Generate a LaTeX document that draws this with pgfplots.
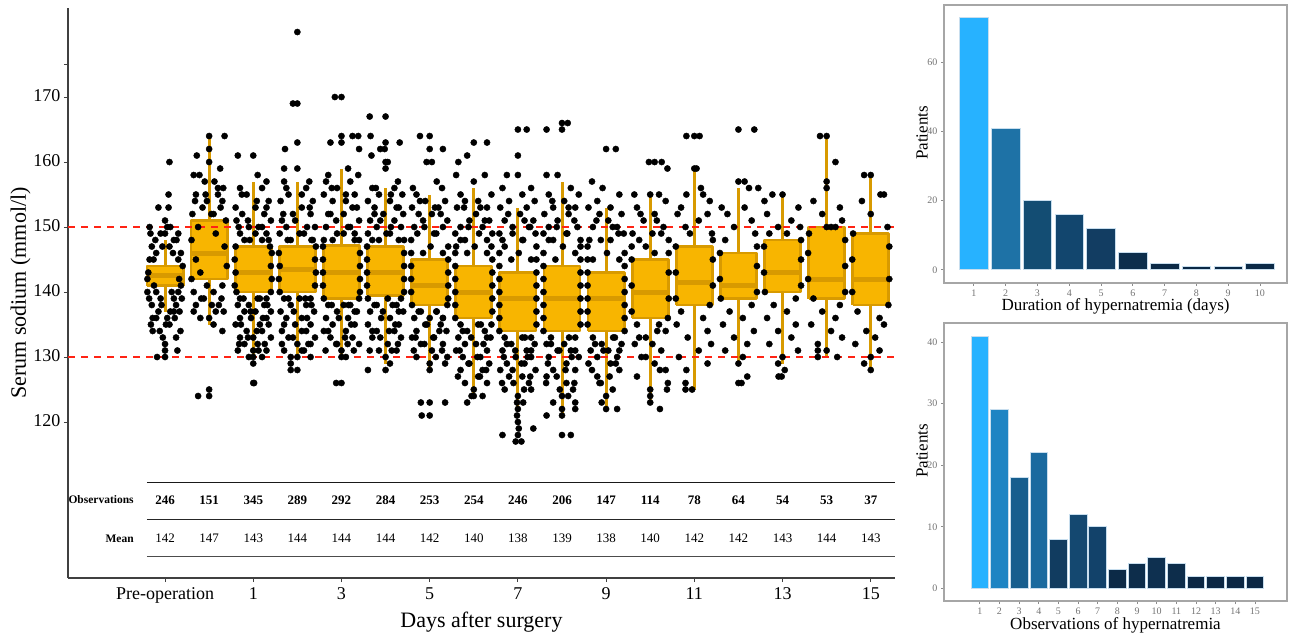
\documentclass[border=0pt]{standalone}
\usepackage{fontspec}
\setmainfont{Liberation Serif}
\usepackage{pgfplots}
\pgfplotsset{compat=1.18}

\definecolor{boxfill}{HTML}{F8B500}
\definecolor{boxedge}{HTML}{D89A00}
\definecolor{refred}{RGB}{255,35,20}
\definecolor{barline}{RGB}{200,222,238}
\definecolor{b73}{HTML}{27B2FF}
\definecolor{b41}{HTML}{1E72A6}
\definecolor{b29}{HTML}{1E84C3}
\definecolor{b22}{HTML}{1A6A9F}
\definecolor{b20}{HTML}{134D73}
\definecolor{b18}{HTML}{175E8E}
\definecolor{b16}{HTML}{12466E}
\definecolor{b12}{HTML}{123D62}
\definecolor{b12b}{HTML}{144870}
\definecolor{b10}{HTML}{12426A}
\definecolor{b8}{HTML}{113C60}
\definecolor{b5}{HTML}{0D2E4C}
\definecolor{b5b}{HTML}{0E3050}
\definecolor{b4}{HTML}{0D2D4B}
\definecolor{b3}{HTML}{0C2A47}
\definecolor{b2}{HTML}{0C2A47}
\definecolor{b1}{HTML}{0B2845}

% one box: position, lower whisker, lower quartile, median, upper quartile, upper whisker
\newcommand{\bx}[6]{%
  \pgfmathsetmacro\xl{#1-0.41}\pgfmathsetmacro\xr{#1+0.41}%
  \pgfmathsetmacro\ml{#1-0.38}\pgfmathsetmacro\mr{#1+0.38}%
  \edef\doit{%
    \noexpand\addplot[boxedge, line width=3pt] coordinates {(#1,#2) (#1,#3)};
    \noexpand\addplot[boxedge, line width=3pt] coordinates {(#1,#5) (#1,#6)};
    \noexpand\addplot[fill=boxfill, draw=boxedge, line width=2.8pt, line join=round]
      coordinates {(\xl,#3) (\xr,#3) (\xr,#5) (\xl,#5) (\xl,#3)};
    \noexpand\addplot[boxedge, line width=5pt] coordinates {(\ml,#4) (\mr,#4)};
  }\doit}

\pgfplotsset{
  small/.style={
    scale only axis, width=343pt, height=278pt, anchor=south west,
    axis line style={draw=black!35, line width=1.2pt},
    tick align=outside, major tick length=3pt,
    tick style={black!45, line width=0.8pt},
    xtick pos=bottom, ytick pos=left,
    ticklabel style={font=\fontsize{10}{11}\selectfont, text=black!55},
    /pgf/number format/assume math mode=true,
    label style={font=\fontsize{17}{19}\selectfont},
    ylabel=Patients,
    ylabel style={at={(axis description cs:-0.064,0.54)}, anchor=center},
    every axis plot/.append style={ybar, bar width=0.9, bar shift=0pt, draw=barline, line width=0.8pt},
  },
}

\begin{document}
\begin{tikzpicture}
\useasboundingbox (0,0) rectangle (1289pt,632pt);

% left: serum sodium by day
\begin{axis}[
  at={(68pt,54pt)}, anchor=south west,
  scale only axis, width=827pt, height=570pt,
  xmin=-2.2, xmax=16.55, ymin=96, ymax=183.7,
  axis x line*=bottom, axis y line*=left,
  axis line style={line width=1.3pt, color=black!75, -},
  xtick={0,2,...,16},
  xticklabels={Pre-operation,1,3,5,7,9,11,13,15},
  ytick={120,130,...,170}, extra y ticks={175}, extra y tick labels={},
  tick align=outside, major tick length=4pt,
  tick style={line width=1pt, black!75},
  ticklabel style={font=\fontsize{18}{20}\selectfont},
  typeset ticklabels with strut,
  /pgf/number format/assume math mode=true,
  xlabel={Days after surgery}, ylabel={Serum sodium (mmol/l)},
  label style={font=\fontsize{22}{24}\selectfont},
  xlabel style={at={(axis description cs:0.5,-0.06)}, anchor=north, inner sep=0pt},
  ylabel style={at={(axis description cs:-0.045,0.5)}, anchor=south, inner sep=0pt},
  clip=false,
]

% jittered observations
\addplot[only marks, mark=*, mark size=3.1pt, black] table[row sep=\\, x expr=\thisrow{c}+\thisrow{d}, y=v] {
c d v\\
0 -0.35 145\\ 0 -0.2 146\\ 0 0.1 147\\ 0 0.3 145\\ 0 -0.4 140\\ 0 0.38 139\\ 0 -0.3 138\\ 0 0.25 138\\ 0 -0.1 139\\ 0 0.15 140\\ 0 -0.25 141\\ 0 0.32 142\\ 0 -0.38 143\\ 0 0.4 144\\ 0 -0.15 137\\ 0 0.05 136\\ 0 -0.32 135\\ 0 0.22 136\\ 0 0.35 134\\ 0 -0.05 133\\ 0 0 132\\ 0 0 131\\ 0 0 130\\ 0 -0.18 130\\ 0 0.28 131\\ 0 0.1 135\\ 0 -0.28 134\\ 0 0.1 160\\ 0 0.08 155\\ 0 -0.15 153\\ 0 0.08 153\\ 0 0.3 149\\ 0 -0.35 150\\ 0 -0.1 149\\ 0 0.2 148\\ 0 -0.3 147\\ 0 0.36 146\\ 0 -0.22 148\\ 0 0.12 150\\ 0 0 151\\ 0 0 149\\ 0 -0.4 142\\ 0 0.36 141\\ 0 0.2 137\\ 0 -0.2 136\\ 0 0.33 137\\ 0 -0.36 139\\
1 -0.35 158\\ 1 -0.28 161\\ 1 0.25 159\\ 1 0.35 164\\ 1 0 164\\ 1 0 162\\ 1 0 160\\ 1 -0.1 157\\ 1 0.2 156\\ 1 -0.3 155\\ 1 0.3 154\\ 1 -0.15 153\\ 1 0.1 152\\ 1 -0.38 152\\ 1 0.38 151\\ 1 -0.25 150\\ 1 0.15 149\\ 1 -0.4 148\\ 1 0.35 147\\ 1 -0.3 145\\ 1 0.4 144\\ 1 -0.2 143\\ 1 0.3 141\\ 1 -0.35 140\\ 1 0.1 140\\ 1 -0.12 139\\ 1 0.22 138\\ 1 -0.3 138\\ 1 0.33 137\\ 1 0 136\\ 1 -0.2 136\\ 1 0.1 135\\ 1 0.3 134\\ 1 -0.25 124\\ 1 0 125\\ 1 0 124\\ 1 -0.4 142\\ 1 0.2 155\\ 1 -0.05 154\\
2 -0.35 161\\ 2 0 161\\ 2 0.1 158\\ 2 0.3 157\\ 2 -0.3 156\\ 2 0.2 156\\ 2 -0.15 155\\ 2 0.35 154\\ 2 -0.4 153\\ 2 0.05 153\\ 2 0.25 152\\ 2 -0.25 152\\ 2 -0.38 151\\ 2 0.4 151\\ 2 0.12 150\\ 2 -0.1 150\\ 2 0.3 149\\ 2 -0.3 149\\ 2 -0.2 148\\ 2 0.2 148\\ 2 0.38 147\\ 2 -0.4 147\\ 2 0.42 146\\ 2 -0.42 145\\ 2 0.4 144\\ 2 -0.4 143\\ 2 0.42 142\\ 2 -0.42 141\\ 2 0.4 140\\ 2 -0.38 140\\ 2 0.3 139\\ 2 -0.3 139\\ 2 0.1 139\\ 2 -0.1 138\\ 2 0.25 138\\ 2 -0.35 138\\ 2 0.4 137\\ 2 -0.2 137\\ 2 0.05 137\\ 2 0.3 136\\ 2 -0.3 136\\ 2 -0.05 136\\ 2 0.15 135\\ 2 -0.4 135\\ 2 0.35 135\\ 2 -0.15 134\\ 2 0.2 134\\ 2 0.4 133\\ 2 -0.3 133\\ 2 0 133\\ 2 0.1 132\\ 2 -0.2 132\\ 2 0.3 131\\ 2 -0.35 131\\ 2 0 131\\ 2 0 130\\ 2 -0.1 130\\ 2 0.2 130\\ 2 0 129\\ 2 0 126\\ 2 0.02 126\\
3 0 180\\ 3 -0.1 169\\ 3 0 169\\ 3 0 163\\ 3 -0.28 162\\ 3 -0.3 159\\ 3 0 159\\ 3 -0.3 157\\ 3 0.27 157\\ 3 0.2 156\\ 3 -0.2 155\\ 3 0.35 154\\ 3 -0.38 154\\ 3 0.1 153\\ 3 -0.1 152\\ 3 0.3 152\\ 3 -0.35 151\\ 3 0.4 150\\ 3 -0.25 150\\ 3 0.15 149\\ 3 -0.4 149\\ 3 0.35 148\\ 3 -0.15 148\\ 3 0.42 147\\ 3 -0.42 146\\ 3 0.4 145\\ 3 -0.4 144\\ 3 0.42 143\\ 3 -0.42 142\\ 3 0.4 141\\ 3 -0.4 140\\ 3 0.3 139\\ 3 -0.3 139\\ 3 0.05 139\\ 3 -0.15 138\\ 3 0.2 138\\ 3 0.38 137\\ 3 -0.38 137\\ 3 0.1 136\\ 3 -0.25 136\\ 3 0.3 135\\ 3 -0.05 135\\ 3 -0.35 134\\ 3 0.2 134\\ 3 0.4 133\\ 3 -0.2 133\\ 3 0 132\\ 3 0.25 132\\ 3 -0.3 131\\ 3 0.1 131\\ 3 0 130\\ 3 -0.15 130\\ 3 -0.15 129\\ 3 -0.15 128\\ 3 0 128\\ 3 0.3 130\\
4 -0.15 170\\ 4 0 170\\ 4 0 164\\ 4 0.25 164\\ 4 0.38 164\\ 4 -0.25 163\\ 4 0 163\\ 4 0.4 162\\ 4 0.15 159\\ 4 0.38 158\\ 4 -0.3 158\\ 4 -0.35 157\\ 4 0.2 157\\ 4 -0.1 156\\ 4 0.3 155\\ 4 -0.4 155\\ 4 0.1 154\\ 4 -0.2 154\\ 4 0.35 153\\ 4 -0.3 152\\ 4 0.05 152\\ 4 0.4 151\\ 4 -0.35 150\\ 4 0.2 150\\ 4 -0.1 149\\ 4 0.3 149\\ 4 -0.4 148\\ 4 0.4 148\\ 4 -0.42 147\\ 4 0.42 146\\ 4 -0.42 145\\ 4 0.42 144\\ 4 -0.42 143\\ 4 0.42 142\\ 4 -0.42 141\\ 4 0.42 140\\ 4 -0.4 139\\ 4 0.4 139\\ 4 -0.3 138\\ 4 0.2 138\\ 4 0.05 138\\ 4 -0.1 137\\ 4 0.35 137\\ 4 -0.35 136\\ 4 0.15 136\\ 4 0.3 135\\ 4 -0.2 135\\ 4 -0.4 134\\ 4 0.1 134\\ 4 0.25 133\\ 4 -0.25 133\\ 4 0.4 132\\ 4 -0.1 132\\ 4 0 131\\ 4 0 130\\ 4 0.1 130\\ 4 -0.12 126\\ 4 0 126\\
5 -0.36 167\\ 5 0 167\\ 5 -0.34 164\\ 5 0 163\\ 5 0.32 163\\ 5 -0.12 162\\ 5 -0.02 162\\ 5 -0.32 161\\ 5 0 160\\ 5 0.05 160\\ 5 0 159\\ 5 0.28 157\\ 5 -0.3 156\\ 5 0.2 156\\ 5 -0.15 155\\ 5 0.38 155\\ 5 -0.4 154\\ 5 0.1 154\\ 5 0.3 153\\ 5 -0.25 153\\ 5 -0.05 152\\ 5 0.4 152\\ 5 -0.35 151\\ 5 0.2 151\\ 5 -0.2 150\\ 5 0.35 150\\ 5 -0.4 149\\ 5 0.1 149\\ 5 0.42 148\\ 5 -0.3 148\\ 5 -0.42 147\\ 5 0.42 146\\ 5 -0.42 145\\ 5 0.42 144\\ 5 -0.42 143\\ 5 0.42 142\\ 5 -0.42 141\\ 5 0.42 140\\ 5 -0.4 139\\ 5 0.35 139\\ 5 0.05 139\\ 5 -0.2 138\\ 5 0.25 138\\ 5 -0.35 137\\ 5 0.4 137\\ 5 0.1 136\\ 5 -0.1 136\\ 5 0.3 135\\ 5 -0.4 135\\ 5 -0.2 134\\ 5 0.2 134\\ 5 0.35 133\\ 5 -0.3 133\\ 5 0.05 132\\ 5 -0.15 131\\ 5 0.25 131\\ 5 0 130\\ 5 -0.4 128\\ 5 0 128\\ 5 0.1 129\\
6 -0.22 164\\ 6 0 164\\ 6 0 162\\ 6 0.3 162\\ 6 -0.07 160\\ 6 0.05 160\\ 6 0.16 157\\ 6 0.28 156\\ 6 -0.38 156\\ 6 -0.3 155\\ 6 0.35 154\\ 6 -0.1 154\\ 6 0.2 153\\ 6 -0.4 153\\ 6 0.05 152\\ 6 -0.25 152\\ 6 0.4 151\\ 6 -0.15 151\\ 6 0.3 150\\ 6 -0.35 150\\ 6 0.1 149\\ 6 -0.42 148\\ 6 0.42 147\\ 6 -0.42 146\\ 6 0.42 145\\ 6 -0.42 144\\ 6 0.42 143\\ 6 -0.42 142\\ 6 0.42 141\\ 6 -0.42 140\\ 6 0.42 139\\ 6 -0.4 138\\ 6 0.4 138\\ 6 -0.2 137\\ 6 0.15 137\\ 6 0.3 136\\ 6 -0.35 136\\ 6 0 136\\ 6 -0.1 135\\ 6 0.25 135\\ 6 0.38 134\\ 6 -0.3 134\\ 6 0.1 133\\ 6 -0.4 133\\ 6 -0.2 132\\ 6 0.3 132\\ 6 0.05 131\\ 6 -0.3 130\\ 6 0.4 130\\ 6 0 129\\ 6 0 128\\ 6 0.35 129\\ 6 -0.2 123\\ 6 0 123\\ 6 0.35 123\\ 6 -0.18 121\\ 6 0 121\\
7 0 163\\ 7 0.3 163\\ 7 -0.15 161\\ 7 -0.35 160\\ 7 -0.4 158\\ 7 0.25 158\\ 7 0 157\\ 7 -0.3 155\\ 7 0.4 155\\ 7 0.1 154\\ 7 -0.2 154\\ 7 -0.38 153\\ 7 0.3 153\\ 7 0.05 152\\ 7 -0.1 151\\ 7 0.35 151\\ 7 -0.3 150\\ 7 0.2 150\\ 7 0.42 149\\ 7 -0.42 149\\ 7 -0.2 148\\ 7 0.3 148\\ 7 0.4 147\\ 7 -0.4 147\\ 7 -0.42 146\\ 7 0.42 145\\ 7 -0.42 144\\ 7 0.42 143\\ 7 -0.42 142\\ 7 0.42 141\\ 7 -0.42 140\\ 7 0.42 139\\ 7 -0.42 138\\ 7 0.42 137\\ 7 -0.42 136\\ 7 0.4 135\\ 7 -0.3 135\\ 7 0.1 135\\ 7 -0.15 134\\ 7 0.25 134\\ 7 0.38 133\\ 7 -0.35 133\\ 7 0.05 132\\ 7 -0.2 132\\ 7 0.3 131\\ 7 -0.4 131\\ 7 0.15 130\\ 7 -0.25 130\\ 7 0.35 129\\ 7 -0.1 129\\ 7 0.2 128\\ 7 -0.3 128\\ 7 0.1 127\\ 7 -0.2 126\\ 7 0.3 126\\ 7 0 125\\ 7 -0.05 124\\ 7 0 124\\ 7 -0.15 123\\ 7 0.2 124\\
8 0 165\\ 8 0.2 165\\ 8 0 161\\ 8 -0.25 158\\ 8 0 158\\ 8 -0.35 156\\ 8 0.3 156\\ 8 0.1 155\\ 8 -0.2 154\\ 8 0.38 154\\ 8 -0.4 153\\ 8 0.2 153\\ 8 0.05 152\\ 8 -0.3 151\\ 8 0.35 151\\ 8 -0.12 150\\ 8 0.25 150\\ 8 -0.42 149\\ 8 0.4 149\\ 8 0.1 148\\ 8 -0.35 148\\ 8 0.42 147\\ 8 -0.42 146\\ 8 0.42 145\\ 8 -0.42 144\\ 8 0.42 143\\ 8 -0.42 142\\ 8 0.42 141\\ 8 -0.42 140\\ 8 0.42 139\\ 8 -0.42 138\\ 8 0.42 137\\ 8 -0.42 136\\ 8 0.42 135\\ 8 -0.42 134\\ 8 0.3 133\\ 8 -0.3 133\\ 8 0.1 133\\ 8 -0.15 132\\ 8 0.38 132\\ 8 0.2 131\\ 8 -0.35 131\\ 8 -0.05 130\\ 8 0.3 130\\ 8 -0.25 129\\ 8 0.15 129\\ 8 0.4 128\\ 8 -0.4 128\\ 8 0.1 127\\ 8 -0.2 127\\ 8 0.25 126\\ 8 -0.1 126\\ 8 0.3 125\\ 8 -0.3 125\\ 8 0 124\\ 8 0.12 123\\ 8 0 122\\ 8 -0.02 121\\ 8 0 120\\ 8 0.02 119\\ 8 0.35 119\\ 8 -0.35 118\\ 8 0 118\\ 8 -0.05 117\\ 8 0.08 117\\
9 -0.35 165\\ 9 0 166\\ 9 0.13 166\\ 9 0 165\\ 9 -0.35 158\\ 9 -0.1 158\\ 9 0.2 156\\ 9 -0.3 155\\ 9 0.38 155\\ 9 0.05 154\\ 9 -0.2 153\\ 9 0.3 153\\ 9 -0.4 152\\ 9 0.15 152\\ 9 -0.1 151\\ 9 0.35 150\\ 9 -0.3 150\\ 9 0.1 149\\ 9 -0.42 149\\ 9 0.42 148\\ 9 -0.2 148\\ 9 0.42 147\\ 9 -0.42 146\\ 9 0.42 145\\ 9 -0.42 144\\ 9 0.42 143\\ 9 -0.42 142\\ 9 0.42 141\\ 9 -0.42 140\\ 9 0.42 139\\ 9 -0.42 138\\ 9 0.42 137\\ 9 -0.42 136\\ 9 0.42 135\\ 9 -0.42 134\\ 9 0.3 133\\ 9 -0.25 133\\ 9 0.05 132\\ 9 -0.35 132\\ 9 0.2 131\\ 9 -0.1 131\\ 9 0.38 130\\ 9 -0.3 130\\ 9 0.1 129\\ 9 -0.2 128\\ 9 0.3 128\\ 9 -0.35 127\\ 9 0.1 126\\ 9 0.25 125\\ 9 -0.05 125\\ 9 0 124\\ 9 -0.2 123\\ 9 0.3 123\\ 9 0 122\\ 9 0.3 122\\ 9 -0.35 121\\ 9 0 121\\ 9 0 118\\ 9 0.2 118\\
10 0 162\\ 10 0.22 162\\ 10 -0.32 157\\ 10 -0.08 156\\ 10 0.3 155\\ 10 -0.2 154\\ 10 0.1 153\\ 10 -0.4 153\\ 10 0.35 152\\ 10 -0.15 152\\ 10 0.05 151\\ 10 -0.3 150\\ 10 0.25 150\\ 10 0.4 149\\ 10 -0.38 148\\ 10 0.1 148\\ 10 -0.42 147\\ 10 0.42 146\\ 10 -0.42 145\\ 10 0.42 144\\ 10 -0.42 143\\ 10 0.42 142\\ 10 -0.42 141\\ 10 0.42 140\\ 10 -0.42 139\\ 10 0.42 138\\ 10 -0.42 137\\ 10 0.42 136\\ 10 -0.42 135\\ 10 0.42 134\\ 10 -0.3 133\\ 10 0.2 133\\ 10 -0.1 132\\ 10 0.35 132\\ 10 0.05 131\\ 10 -0.35 131\\ 10 0.25 130\\ 10 -0.2 130\\ 10 -0.4 129\\ 10 0.1 129\\ 10 0.3 128\\ 10 -0.2 127\\ 10 -0.15 126\\ 10 0.15 125\\ 10 0 124\\ 10 -0.1 123\\ 10 0 122\\ 10 0.25 122\\
11 -0.03 160\\ 11 0.1 160\\ 11 0.26 160\\ 11 0.39 159\\ 11 -0.36 155\\ 11 0 155\\ 11 0.2 155\\ 11 0.35 154\\ 11 -0.3 153\\ 11 0.1 152\\ 11 -0.15 151\\ 11 0.3 150\\ 11 -0.4 149\\ 11 0.05 149\\ 11 0.42 148\\ 11 -0.25 148\\ 11 -0.42 147\\ 11 0.42 146\\ 11 -0.42 145\\ 11 0.42 143\\ 11 -0.42 141\\ 11 0.42 139\\ 11 -0.42 137\\ 11 0.4 136\\ 11 -0.3 135\\ 11 0.2 135\\ 11 0.35 134\\ 11 -0.1 133\\ 11 -0.35 132\\ 11 0.25 131\\ 11 -0.2 130\\ 11 0.1 129\\ 11 0.35 128\\ 11 -0.3 127\\ 11 0.4 126\\ 11 0 125\\ 11 0 124\\ 11 0.22 122\\ 11 0 123\\ 11 0.38 125\\
12 -0.18 164\\ 12 0 164\\ 12 0.12 164\\ 12 0 159\\ 12 0.05 159\\ 12 0.15 156\\ 12 -0.18 155\\ 12 0.2 155\\ 12 0.35 154\\ 12 -0.3 153\\ 12 0.3 152\\ 12 -0.38 152\\ 12 0.1 151\\ 12 -0.2 150\\ 12 0.4 149\\ 12 -0.1 149\\ 12 0.42 148\\ 12 -0.42 147\\ 12 0.42 145\\ 12 -0.42 143\\ 12 0.42 141\\ 12 -0.42 139\\ 12 0.35 138\\ 12 -0.3 137\\ 12 0.2 136\\ 12 -0.4 135\\ 12 0.3 134\\ 12 -0.15 133\\ 12 0.38 132\\ 12 0.1 131\\ 12 -0.35 130\\ 12 -0.18 128\\ 12 -0.2 126\\ 12 -0.05 125\\ 12 -0.2 125\\ 12 0.3 129\\
13 0 165\\ 13 0.36 165\\ 13 0 157\\ 13 0.14 157\\ 13 0.24 156\\ 13 0.45 156\\ 13 -0.38 153\\ 13 0.14 153\\ 13 -0.25 152\\ 13 0.3 151\\ 13 -0.1 150\\ 13 0.38 149\\ 13 -0.3 148\\ 13 0.42 147\\ 13 -0.42 146\\ 13 0.42 144\\ 13 -0.42 142\\ 13 0.42 140\\ 13 -0.4 139\\ 13 0.3 138\\ 13 -0.2 137\\ 13 0.1 136\\ 13 -0.35 135\\ 13 0.35 134\\ 13 -0.1 133\\ 13 0.2 132\\ 13 -0.3 131\\ 13 0.1 130\\ 13 0 129\\ 13 0.2 127\\ 13 0 126\\ 13 0.07 126\\
14 -0.23 155\\ 14 -0.41 154\\ 14 0 155\\ 14 0.36 153\\ 14 -0.35 152\\ 14 0.2 151\\ 14 -0.1 150\\ 14 0.4 150\\ 14 -0.3 149\\ 14 0.1 149\\ 14 0.42 148\\ 14 -0.42 147\\ 14 0.42 145\\ 14 -0.42 143\\ 14 0.42 141\\ 14 -0.4 140\\ 14 0.3 139\\ 14 -0.2 138\\ 14 0.1 137\\ 14 -0.35 136\\ 14 0.3 135\\ 14 -0.1 134\\ 14 0.2 133\\ 14 -0.3 132\\ 14 0.35 131\\ 14 0 130\\ 14 -0.1 129\\ 14 -0.09 127\\ 14 -0.02 127\\ 14 0.05 128\\
15 -0.15 164\\ 15 0 164\\ 15 0.2 160\\ 15 0 157\\ 15 0 156\\ 15 -0.3 154\\ 15 0.3 153\\ 15 -0.1 152\\ 15 0.35 151\\ 15 0 150\\ 15 0.1 150\\ 15 0.2 150\\ 15 -0.4 149\\ 15 0.42 148\\ 15 -0.42 146\\ 15 0.42 144\\ 15 -0.42 142\\ 15 0.42 140\\ 15 -0.3 139\\ 15 0.3 138\\ 15 -0.1 137\\ 15 0.2 136\\ 15 -0.35 135\\ 15 0.1 134\\ 15 0.35 133\\ 15 -0.2 132\\ 15 -0.2 131\\ 15 -0.2 130\\ 15 0.24 130\\ 15 0 131\\
16 -0.15 158\\ 16 0 158\\ 16 0.22 155\\ 16 0.3 155\\ 16 -0.2 154\\ 16 0 152\\ 16 0.38 150\\ 16 -0.4 149\\ 16 0.42 147\\ 16 -0.42 145\\ 16 0.42 142\\ 16 -0.42 140\\ 16 0.4 138\\ 16 -0.3 137\\ 16 0.2 136\\ 16 0.3 135\\ 16 -0.1 134\\ 16 0.1 133\\ 16 -0.35 132\\ 16 0.2 131\\ 16 0 130\\ 16 -0.15 129\\ 16 0 128\\
};

% more observations in the dense parts above and below the boxes
\addplot[only marks, mark=*, mark size=3.1pt, black] table[row sep=\\, x expr=\thisrow{c}+\thisrow{d}, y=v] {
c d v\\
0 -0.26 145\\ 0 0.18 146\\ 0 -0.06 147\\ 0 0.26 148\\ 0 -0.33 149\\ 0 0.05 150\\ 0 0.2 139\\ 0 -0.2 140\\ 0 0.3 140\\ 0 -0.08 138\\ 0 0.12 137\\ 0 -0.28 136\\ 0 0.02 135\\ 0 0.25 133\\ 0 -0.12 134\\
1 -0.22 158\\ 1 0.12 157\\ 1 0.32 156\\ 1 -0.08 155\\ 1 0.26 153\\ 1 -0.32 154\\ 1 0.05 152\\ 1 -0.18 139\\ 1 0.28 139\\ 1 0.06 138\\ 1 -0.35 137\\ 1 0.15 137\\ 1 -0.05 141\\
2 -0.26 155\\ 2 0.08 154\\ 2 0.3 153\\ 2 -0.12 151\\ 2 0.2 150\\ 2 -0.33 150\\ 2 0.05 149\\ 2 0.35 148\\ 2 -0.08 148\\ 2 0.15 139\\ 2 -0.22 139\\ 2 0.32 138\\ 2 -0.06 137\\ 2 0.22 136\\ 2 -0.28 135\\ 2 0.08 134\\ 2 -0.12 133\\ 2 0.26 132\\ 2 -0.32 132\\ 2 0.12 131\\
3 -0.25 156\\ 3 0.1 155\\ 3 0.28 153\\ 3 -0.05 151\\ 3 0.22 150\\ 3 -0.32 152\\ 3 0.05 149\\ 3 0.32 148\\ 3 -0.22 148\\ 3 0.18 139\\ 3 -0.2 139\\ 3 0.32 138\\ 3 -0.08 137\\ 3 0.22 136\\ 3 -0.3 135\\ 3 0.1 134\\ 3 -0.1 133\\ 3 0.3 132\\ 3 -0.35 132\\ 3 0.15 131\\
4 -0.22 156\\ 4 0.1 155\\ 4 0.25 153\\ 4 -0.12 151\\ 4 0.15 150\\ 4 -0.25 152\\ 4 0.05 149\\ 4 0.3 148\\ 4 -0.2 148\\ 4 0.16 138\\ 4 -0.22 138\\ 4 0.3 137\\ 4 -0.06 136\\ 4 0.22 135\\ 4 -0.3 134\\ 4 0.08 133\\ 4 -0.12 132\\ 4 0.28 131\\ 4 -0.36 131\\ 4 0.14 132\\
5 -0.22 156\\ 5 0.12 155\\ 5 0.25 153\\ 5 -0.12 151\\ 5 0.12 150\\ 5 -0.25 152\\ 5 0.02 149\\ 5 0.3 148\\ 5 -0.15 148\\ 5 0.16 138\\ 5 -0.25 138\\ 5 0.3 137\\ 5 -0.06 137\\ 5 0.22 135\\ 5 -0.3 134\\ 5 0.08 134\\ 5 -0.12 133\\ 5 0.28 132\\ 5 -0.36 131\\ 5 0.14 131\\
6 -0.22 154\\ 6 0.12 153\\ 6 0.25 152\\ 6 -0.12 150\\ 6 0.15 149\\ 6 -0.28 149\\ 6 0.02 147\\ 6 0.3 146\\ 6 -0.15 146\\ 6 0.16 137\\ 6 -0.25 137\\ 6 0.3 136\\ 6 -0.06 135\\ 6 0.22 134\\ 6 -0.32 133\\ 6 0.08 133\\ 6 -0.12 132\\ 6 0.28 131\\ 6 -0.36 131\\ 6 0.14 130\\
7 -0.22 153\\ 7 0.15 153\\ 7 0.25 151\\ 7 -0.12 150\\ 7 0.12 149\\ 7 -0.3 148\\ 7 0.02 147\\ 7 0.3 146\\ 7 -0.15 146\\ 7 0.16 135\\ 7 -0.25 134\\ 7 0.3 133\\ 7 -0.06 133\\ 7 0.22 132\\ 7 -0.32 131\\ 7 0.08 130\\ 7 -0.12 129\\ 7 0.28 128\\ 7 -0.36 127\\ 7 0.14 127\\
8 -0.22 152\\ 8 0.15 151\\ 8 0.28 150\\ 8 -0.12 149\\ 8 0.12 148\\ 8 -0.3 147\\ 8 0.02 146\\ 8 0.3 145\\ 8 -0.15 145\\ 8 0.16 133\\ 8 -0.25 132\\ 8 0.3 131\\ 8 -0.06 131\\ 8 0.22 130\\ 8 -0.32 130\\ 8 0.08 129\\ 8 -0.12 128\\ 8 0.28 127\\ 8 -0.36 126\\ 8 0.14 125\\ 8 -0.02 123\\
9 -0.22 154\\ 9 0.15 153\\ 9 0.28 151\\ 9 -0.12 150\\ 9 0.12 149\\ 9 -0.3 148\\ 9 0.02 147\\ 9 0.3 146\\ 9 -0.15 145\\ 9 0.16 133\\ 9 -0.25 132\\ 9 0.3 131\\ 9 -0.06 131\\ 9 0.22 130\\ 9 -0.32 129\\ 9 0.08 128\\ 9 -0.12 127\\ 9 0.28 126\\ 9 -0.36 126\\ 9 0.14 124\\
10 -0.22 151\\ 10 0.15 150\\ 10 0.28 149\\ 10 -0.12 148\\ 10 0.02 146\\ 10 -0.3 145\\ 10 0.3 145\\ 10 0.16 133\\ 10 -0.25 132\\ 10 0.3 131\\ 10 -0.06 131\\ 10 0.22 129\\ 10 -0.32 128\\ 10 0.08 127\\ 10 -0.12 126\\
11 -0.22 152\\ 11 0.15 151\\ 11 0.25 149\\ 11 -0.1 147\\ 11 0.1 146\\ 11 0.16 134\\ 11 -0.25 133\\ 11 0.05 132\\ 11 -0.1 130\\ 11 0.22 128\\
};

% boxes: position, lower whisker, Q1, median, Q3, upper whisker
\bx{0}{137}{141}{142.5}{144}{148}
\bx{1}{135}{142}{146}{151}{164}
\bx{2}{130}{140}{143}{147}{157}
\bx{3}{130}{140}{143.5}{147}{157}
\bx{4}{130}{139}{143}{147.2}{159}
\bx{5}{129}{139.5}{143}{147}{156}
\bx{6}{128}{138}{141}{145}{155}
\bx{7}{124}{136}{140}{144}{156}
\bx{8}{122}{134}{139}{143}{153}
\bx{9}{121}{134}{139}{144}{157}
\bx{10}{122}{134}{139}{143}{153}
\bx{11}{123}{136}{140}{145}{155}
\bx{12}{125}{138}{141.5}{147}{159}
\bx{13}{129}{139}{141}{146}{156}
\bx{14}{129}{140}{143}{148}{155}
\bx{15}{130}{139}{142}{150}{164}
\bx{16}{128}{138}{142}{149}{158}

% reference range
\addplot[refred, line width=2pt, dash pattern=on 7pt off 6pt] coordinates {(-2.2,150) (16.55,150)};
\addplot[refred, line width=2pt, dash pattern=on 7pt off 6pt] coordinates {(-2.2,130) (16.55,130)};

% table under the plot
\addplot[black!90, line width=1.5pt] coordinates {(-0.41,110.7) (16.55,110.7)};
\addplot[black!85, line width=1.5pt] coordinates {(-0.41,105.0) (16.55,105.0)};
\addplot[black!70, line width=1.5pt] coordinates {(-0.41,99.3) (16.55,99.3)};
\node[anchor=east, font=\fontsize{11.5}{12}\selectfont\bfseries] at (axis cs:-0.63,108.0) {Observations};
\node[anchor=east, font=\fontsize{11.5}{12}\selectfont\bfseries] at (axis cs:-0.63,102.1) {Mean};
\addplot[draw=none, mark=none, nodes near coords, point meta=explicit symbolic,
  nodes near coords style={anchor=center, font=\fontsize{13}{14}\selectfont\bfseries}]
  table[meta=n] {
x y n
0 108.0 246
1 108.0 151
2 108.0 345
3 108.0 289
4 108.0 292
5 108.0 284
6 108.0 253
7 108.0 254
8 108.0 246
9 108.0 206
10 108.0 147
11 108.0 114
12 108.0 78
13 108.0 64
14 108.0 54
15 108.0 53
16 108.0 37
};
\addplot[draw=none, mark=none, nodes near coords, point meta=explicit symbolic,
  nodes near coords style={anchor=center, font=\fontsize{13}{14}\selectfont}]
  table[meta=m] {
x y m
0 102.1 142
1 102.1 147
2 102.1 143
3 102.1 144
4 102.1 144
5 102.1 144
6 102.1 142
7 102.1 140
8 102.1 138
9 102.1 139
10 102.1 138
11 102.1 140
12 102.1 142
13 102.1 142
14 102.1 143
15 102.1 144
16 102.1 143
};
\end{axis}

% top right: duration of hypernatremia
\begin{axis}[small, at={(944pt,349pt)},
  xmin=0.06, xmax=10.85, ymin=-3.8, ymax=76.6,
  xtick={1,...,10}, ytick={0,20,40,60},
  xlabel={Duration of hypernatremia (days)},
  xlabel style={at={(axis description cs:0.5,-0.085)}, anchor=center},
]
\addplot[fill=b73] coordinates {(1,73)};
\addplot[fill=b41] coordinates {(2,41)};
\addplot[fill=b20] coordinates {(3,20)};
\addplot[fill=b16] coordinates {(4,16)};
\addplot[fill=b12] coordinates {(5,12)};
\addplot[fill=b5] coordinates {(6,5)};
\addplot[fill=b2] coordinates {(7,2)};
\addplot[fill=b1] coordinates {(8,1)};
\addplot[fill=b1] coordinates {(9,1)};
\addplot[fill=b2] coordinates {(10,2)};
\end{axis}

% bottom right: observations of hypernatremia
\begin{axis}[small, at={(944pt,31pt)},
  xmin=-0.82, xmax=16.63, ymin=-2.06, ymax=43.1,
  xtick={1,...,15}, ytick={0,10,20,30,40},
  xlabel={Observations of hypernatremia},
  xlabel style={at={(axis description cs:0.5,-0.088)}, anchor=center},
]
\addplot[fill=b73] coordinates {(1,41)};
\addplot[fill=b29] coordinates {(2,29)};
\addplot[fill=b18] coordinates {(3,18)};
\addplot[fill=b22] coordinates {(4,22)};
\addplot[fill=b8] coordinates {(5,8)};
\addplot[fill=b12b] coordinates {(6,12)};
\addplot[fill=b10] coordinates {(7,10)};
\addplot[fill=b3] coordinates {(8,3)};
\addplot[fill=b4] coordinates {(9,4)};
\addplot[fill=b5b] coordinates {(10,5)};
\addplot[fill=b4] coordinates {(11,4)};
\addplot[fill=b1] coordinates {(12,2)};
\addplot[fill=b1] coordinates {(13,2)};
\addplot[fill=b1] coordinates {(14,2)};
\addplot[fill=b1] coordinates {(15,2)};
\end{axis}
\end{tikzpicture}
\end{document}
